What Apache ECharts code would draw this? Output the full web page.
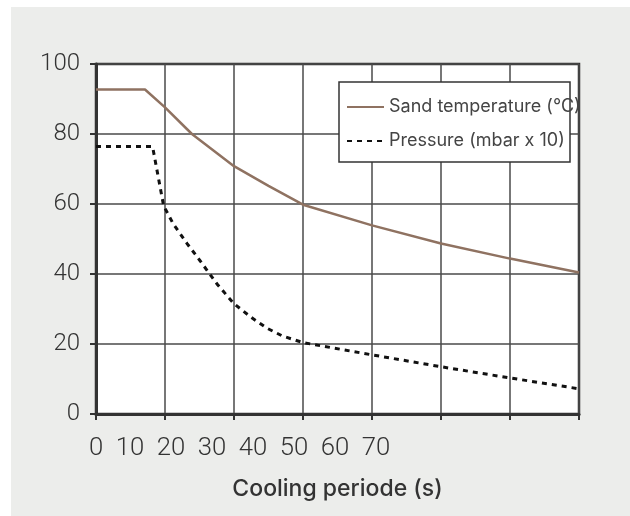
<!DOCTYPE html>
<html>
<head>
<meta charset="utf-8">
<script src="https://cdn.jsdelivr.net/npm/echarts@6/dist/echarts.min.js"></script>
<style>
  html, body { margin: 0; padding: 0; background: #ffffff; }
  #bg { position: absolute; left: 11px; top: 7px; width: 619px; height: 509px; background: #ecedeb; }
  #chart { position: absolute; left: 0; top: 0; width: 630px; height: 516px; }
</style>
</head>
<body>
<div id="bg"></div>
<div id="chart"></div>
<script>
const xTickLabels = [0, 10, 20, 30, 40, 50, 60, 70];
const yTicks = [0, 20, 40, 60, 80, 100];
const xAxisTitle = 'Cooling periode (s)';
const seriesNames = ['Sand temperature (°C)', 'Pressure (mbar x 10)'];

const tempX = [0, 7.1, 10, 13.9, 20, 25, 30, 40, 50, 60, 70];
const tempY = [92.7, 92.7, 87.6, 80, 70.8, 65.2, 59.8, 53.9, 48.7, 44.4, 40.4];
const presX = [0, 8.2, 9.8, 11.2, 13.2, 15, 17.6, 20, 22.5, 24.7, 27, 30, 40, 50, 60, 70];
const presY = [76.4, 76.4, 59.5, 54.3, 48.7, 44, 37, 31.5, 27.6, 24.6, 22.3, 20.4, 16.9, 13.5, 10.3, 7.2];

const FONT = 'Inter, "Noto Sans", sans-serif';
const NUMFONT = 'Roboto, "Noto Sans", sans-serif';
const chart = echarts.init(document.getElementById('chart'), null, { renderer: 'canvas' });

chart.setOption({
  backgroundColor: 'transparent',
  animation: false,
  grid: {
    left: 96, right: 51, top: 64, bottom: 102,
    show: true, backgroundColor: '#ffffff',
    borderColor: '#333333', borderWidth: 2.5
  },
  xAxis: {
    type: 'value', min: 0, max: 70, interval: 10,
    name: xAxisTitle, nameLocation: 'middle', nameGap: 64,
    nameTextStyle: { fontFamily: FONT, fontSize: 23, color: '#333333', fontWeight: 500 },
    axisLine: { show: true, lineStyle: { color: '#333333', width: 3 } },
    axisTick: { show: true, inside: false, length: 6, lineStyle: { color: '#333333', width: 2 } },
    axisLabel: { show: false },
    splitLine: { show: true, lineStyle: { color: '#4a4a4a', width: 1.5 } }
  },
  yAxis: {
    type: 'value', min: 0, max: 100, interval: 20,
    axisLine: { show: true, lineStyle: { color: '#333333', width: 3 } },
    axisTick: { show: true, length: 6, lineStyle: { color: '#333333', width: 2 } },
    axisLabel: { fontFamily: NUMFONT, fontSize: 24, fontWeight: 300, color: '#333333', margin: 16,
      formatter: v => yTicks.includes(v) ? String(v) : '' },
    splitLine: { show: true, lineStyle: { color: '#4a4a4a', width: 1.5 } }
  },
  legend: {
    orient: 'vertical', left: 346, top: 98, padding: 0,
    itemWidth: 37, itemHeight: 14, itemGap: 16,
    itemStyle: { opacity: 0 },
    textStyle: { fontFamily: FONT, fontSize: 18, color: '#444444' },
    data: seriesNames, z: 10
  },
  graphic: [
    { type: 'rect', z: 9, shape: { x: 339, y: 82, width: 231, height: 80 },
      style: { fill: '#ffffff', stroke: '#333333', lineWidth: 1.5 } },
    { type: 'text', z: 10, x: 89, y: 449,
      style: { text: xTickLabels.join('  '), fontFamily: NUMFONT, fontSize: 25.7, fontWeight: 300,
        fill: '#333333', textVerticalAlign: 'middle', textAlign: 'left' } }
  ],
  series: [
    { name: seriesNames[0], type: 'line', symbol: 'none',
      data: tempX.map((x, i) => [x, tempY[i]]),
      lineStyle: { color: '#8f7261', width: 2.5 }, itemStyle: { color: '#8f7261' } },
    { name: seriesNames[1], type: 'line', symbol: 'none',
      data: presX.map((x, i) => [x, presY[i]]),
      lineStyle: { color: '#111111', width: 3, type: [5, 5] }, itemStyle: { color: '#111111' } }
  ]
});
</script>
</body>
</html>
